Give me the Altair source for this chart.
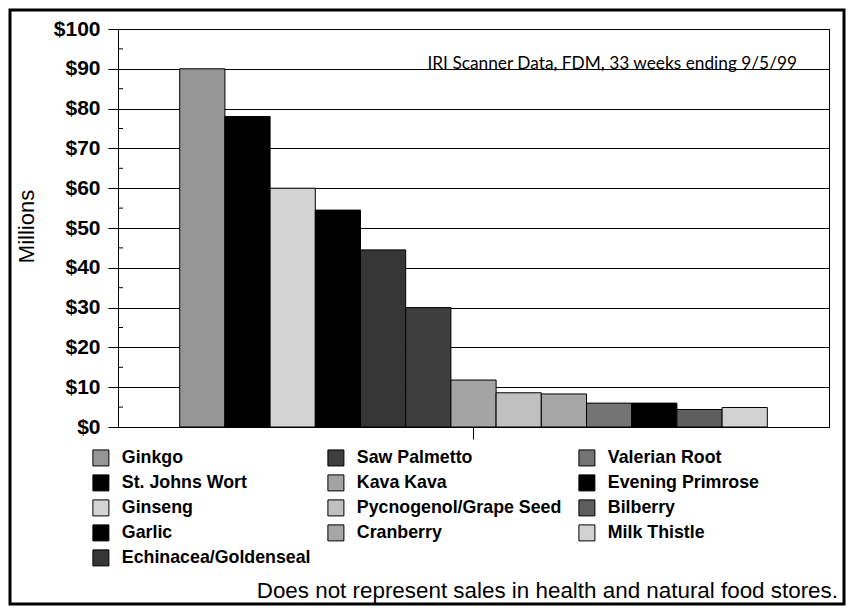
import altair as alt
import pandas as pd

# ---- data ----
herbs = ["Ginkgo", "St. Johns Wort", "Ginseng", "Garlic", "Echinacea/Goldenseal",
         "Saw Palmetto", "Kava Kava", "Pycnogenol/Grape Seed", "Cranberry",
         "Valerian Root", "Evening Primrose", "Bilberry", "Milk Thistle"]
sales = [90, 78, 60, 54.5, 44.5, 30, 11.8, 8.6, 8.3, 6.0, 6.0, 4.4, 4.9]
shades = ["#969696", "#000000", "#d4d4d4", "#000000", "#363636",
          "#3e3e3e", "#a4a4a4", "#c0c0c0", "#a6a6a6",
          "#747474", "#000000", "#5e5e5e", "#d2d2d2"]
# legend reads column by column in the reference (5/4/4); entries listed row by row
legend_idx = [0, 5, 9, 1, 6, 10, 2, 7, 11, 3, 8, 12, 4]
y_ticks = [0, 10, 20, 30, 40, 50, 60, 70, 80, 90, 100]
minor_ticks = [5, 15, 25, 35, 45, 55, 65, 75, 85, 95]
note = "IRI Scanner Data, FDM, 33 weeks ending 9/5/99"
footnote = "Does not represent sales in health and natural food stores."

shade_by = dict(zip(herbs, shades))
legend_order = [herbs[i] for i in legend_idx]
df = pd.DataFrame({"group": ["all"] * len(herbs), "herb": herbs, "sales": sales})

W, H = 711, 398
PAD = {"left": 110, "top": 21, "right": 17, "bottom": 179}
FONT = "Liberation Sans"

yscale = alt.Scale(domain=[0, 100], nice=False)
yaxis = alt.Axis(values=y_ticks, title="Millions",
                 labelExpr="'$' + datum.value", labelOverlap=False,
                 labelFont=FONT, labelFontSize=21, labelFontWeight="bold",
                 labelColor="black", labelPadding=8,
                 tickSize=10, tickColor="black", domainColor="black",
                 grid=True, gridColor="black", gridOpacity=1, gridWidth=1,
                 titleFont=FONT, titleFontSize=22, titleFontWeight="normal",
                 titleColor="black", titleX=-92, titleY=197,
                 titleAlign="center", titleBaseline="middle", titleAngle=-90)

border = alt.Chart(pd.DataFrame({"k": [0]})).mark_rect(
    filled=False, stroke="black", strokeWidth=3
).encode(
    x=alt.value(-PAD["left"] + 2), x2=alt.value(W + PAD["right"] - 2),
    y=alt.value(-PAD["top"] + 2), y2=alt.value(H + PAD["bottom"] - 2),
)

bars = alt.Chart(df).mark_bar(stroke="black", strokeWidth=1, opacity=1).encode(
    x=alt.X("group:N", title=None,
            scale=alt.Scale(paddingInner=0, paddingOuter=0.105),
            axis=alt.Axis(labels=False, tickSize=12, tickColor="black",
                          domainColor="black", grid=False, title=None)),
    xOffset=alt.XOffset("herb:N", sort=herbs,
                        scale=alt.Scale(paddingInner=0, paddingOuter=0)),
    y=alt.Y("sales:Q", scale=yscale, axis=yaxis),
    color=alt.Color("herb:N",
                    scale=alt.Scale(domain=legend_order,
                                    range=[shade_by[h] for h in legend_order]),
                    legend=alt.Legend(title=None, orient="none", legendX=-26, legendY=420,
                                      direction="horizontal", columns=3,
                                      symbolType="square", symbolSize=256,
                                      symbolStrokeColor="black", symbolStrokeWidth=1,
                                      symbolOpacity=1,
                                      labelFont=FONT, labelFontSize=17.8,
                                      labelFontWeight="bold", labelColor="black",
                                      labelOffset=12, columnPadding=14, rowPadding=4,
                                      labelLimit=400, padding=0)),
)

minor = alt.Chart(pd.DataFrame({"v": minor_ticks})).mark_rule(
    color="black", strokeWidth=1
).encode(y=alt.Y("v:Q", scale=yscale, axis=yaxis), x=alt.value(0), x2=alt.value(5))

note_layer = alt.Chart(pd.DataFrame({"t": [note], "v": [90]})).mark_text(
    align="right", baseline="alphabetic", font="Lato", fontSize=17.3, color="black"
).encode(text="t:N", y=alt.Y("v:Q", scale=yscale, axis=yaxis), x=alt.value(679))

foot_layer = alt.Chart(pd.DataFrame({"t": [footnote]})).mark_text(
    align="right", baseline="alphabetic", font=FONT, fontSize=22.4, color="black"
).encode(text="t:N", x=alt.value(720), y=alt.value(569))

chart = alt.layer(bars, border, minor, note_layer, foot_layer).properties(
    width=W, height=H,
    autosize=alt.AutoSizeParams(type="none"),
    padding=PAD,
    background="white",
).configure_view(stroke="black", strokeWidth=1)

chart.save("out.html", embed_options={"renderer": "svg", "actions": False})
